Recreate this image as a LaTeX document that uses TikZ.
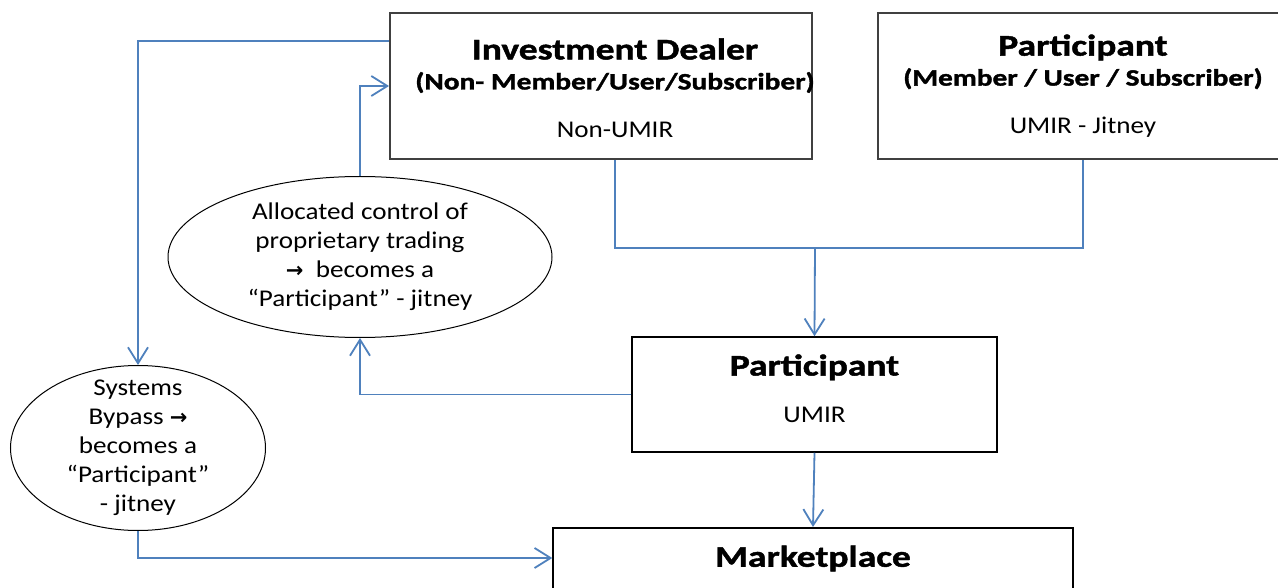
\documentclass[tikz,border=0pt]{standalone}
\usepackage{fontspec}
\setmainfont{Carlito}[FakeStretch=1.13,BoldFeatures={FakeStretch=1.25,FakeBold=1.5}]
\newfontfamily\arrowfont{DejaVu Sans}
\usepackage{xcolor}
\usepackage{tikz}
\usetikzlibrary{shapes.geometric, arrows.meta}
\definecolor{flowblue}{HTML}{4F81BD}
\newcommand{\titlefont}{\fontsize{30}{34}\selectfont\bfseries}
\newcommand{\subfont}{\fontsize{23.5}{28}\selectfont\bfseries}
\newcommand{\bodyfont}{\fontsize{24}{29}\selectfont}
\newcommand{\rarr}{{\arrowfont\bfseries\fontsize{21}{24}\selectfont →}}
\tikzstyle{arrow} = [flowblue,line width=1.8pt,-{Straight Barb[length=16pt,width=20pt]}]
\tikzstyle{link} = [flowblue,line width=1.8pt]
\tikzstyle{topbox} = [draw=black!75,line width=2pt,minimum width=422pt,minimum height=146pt]
\tikzstyle{flowbox} = [draw=black,line width=1.5pt,align=center,font=\bodyfont]
\tikzstyle{bubble} = [draw,ellipse,line width=1pt]

\begin{document}
\begin{tikzpicture}[x=1pt,y=-1pt]
% Frame:
% Clipped to the page, the right box and the bottom box run off it
\clip (0,0) rectangle (1278,588);
\fill[white] (0,0) rectangle (1278,588);

% Boxes:
\node[topbox] (dealer) at (601,86) {};
\node[align=center,font=\bodyfont] (dealertext) at ([xshift=14pt,yshift=-2pt]dealer.center)
	{{\titlefont Investment Dealer}\\[1pt]{\subfont (Non- Member/User/Subscriber)}\\[19pt]Non-UMIR};
\node[topbox,minimum width=410pt,align=center,font=\bodyfont] (member) at (1083,86)
	{{\titlefont Participant}\\[1pt]{\subfont (Member / User / Subscriber)}\\[19pt]UMIR - Jitney};
\node[flowbox,minimum width=365pt,minimum height=115pt,text depth=12pt] (mid) at (814.5,394.5)
	{{\titlefont Participant}\\[18pt]UMIR};
\node[flowbox,anchor=north,minimum width=520pt,inner ysep=17pt,text height=22pt,text depth=70pt] (market) at (813,527)
	{\titlefont Marketplace};

% Bubbles:
\node[bubble,minimum width=384pt,minimum height=161pt] (alloc) at (360,257) {};
\node[align=center,font=\bodyfont] (alloctext) at (alloc.center)
	{Allocated control of\\proprietary trading\\\rarr\ \ becomes a\\“Participant” - jitney};
\node[bubble,minimum width=255pt,minimum height=165pt] (bypass) at (138,448) {};
\node[align=center,font=\bodyfont] (bypasstext) at (bypass.center)
	{Systems\\Bypass \rarr\\becomes a\\“Participant”\\- jitney};

% Connectors:
\coordinate (join) at (815,248);
\draw[arrow] ([yshift=-29pt]dealer.north west) -| (bypass.north);
\draw[arrow] (alloc.north) |- ([yshift=-74pt]dealer.north west);
\draw[link] ([xshift=14pt]dealer.south) |- (join) -| (member.south);
\draw[arrow] (join) -- (mid.north);
\draw[arrow] (mid.west) -| (alloc.south);
\draw[arrow] (mid.south) -- (market.north);
\draw[arrow] (bypass.south) |- ([yshift=-31pt]market.north west);
\end{tikzpicture}
\end{document}
